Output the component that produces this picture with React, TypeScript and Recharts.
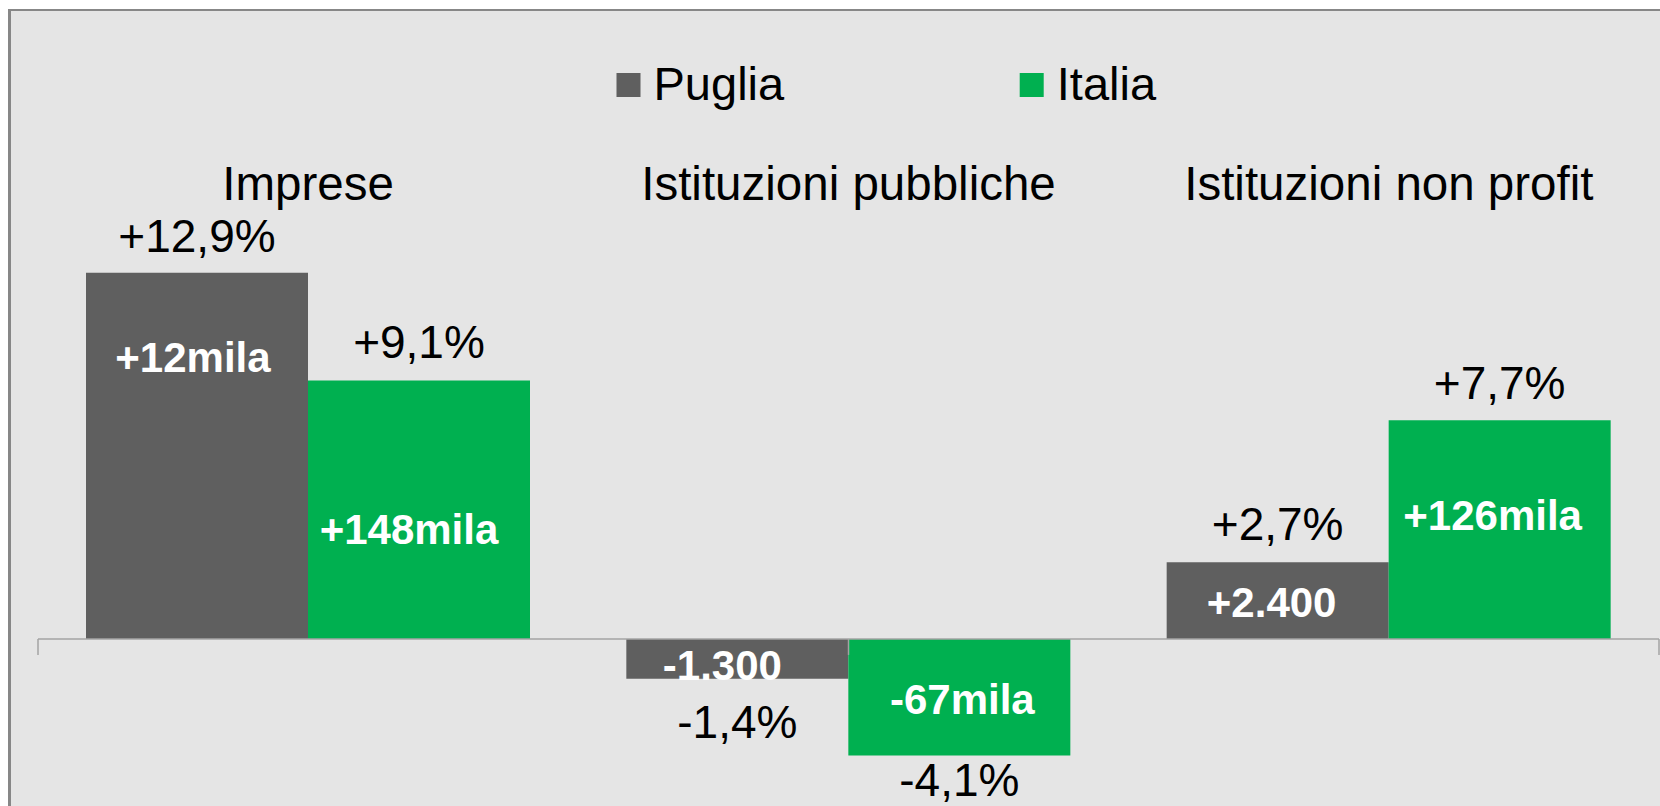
import React from 'react';
import { BarChart, Bar, XAxis, YAxis, ReferenceLine, LabelList, Legend } from 'recharts';

// ---- data ----
const categories = ['Imprese', 'Istituzioni pubbliche', 'Istituzioni non profit'];
const seriesNames = ['Puglia', 'Italia'];
const pugliaPct = [12.9, -1.4, 2.7];
const italiaPct = [9.1, -4.1, 7.7];
const pugliaAbs = ['+12mila', '-1.300', '+2.400'];
const italiaAbs = ['+148mila', '-67mila', '+126mila'];
const yDomain = [-5, 15];

const data = categories.map((name, i) => ({
  name,
  puglia: pugliaPct[i],
  italia: italiaPct[i],
  pugliaAbs: pugliaAbs[i],
  italiaAbs: italiaAbs[i],
}));
const boundaries = Array.from({ length: categories.length + 1 }, (_, i) => i);

// ---- layout / style ----
const FONT = '"Liberation Sans", Arial, Helvetica, sans-serif';
const GREY = '#5f5f5f';
const GREEN = '#00b050';
const AXIS = '#a3a3a3';
// gap between bar end and percent label baseline
const pctGapPuglia = [21, 59, 22];
const pctGapItalia = [23, 41, 21];
// inner label baseline measured from bar's upper edge, and horizontal nudges
const innerDyPuglia = [99, 41, 55];
const innerDyItalia = [163, 75, 110];
const innerDxPuglia = [-4, -15, -6];
const innerDxItalia = [-10, 3, -7];

const fmtPct = (v: number) => (v >= 0 ? '+' : '-') + Math.abs(v).toFixed(1).replace('.', ',') + '%';

function geom(props: any) {
  const vb = props.viewBox && typeof props.viewBox.x === 'number' ? props.viewBox : props;
  const x = Number(vb.x), y = Number(vb.y), w = Number(vb.width), h = Number(vb.height);
  return { cx: x + w / 2, top: Math.min(y, y + h), bottom: Math.max(y, y + h) };
}

function makePctLabel(values: number[], gaps: number[]) {
  return (props: any) => {
    const v = Number(props.value);
    const idx = typeof props.index === 'number' ? props.index : values.indexOf(v);
    const { cx, top, bottom } = geom(props);
    const base = v >= 0 ? top - gaps[idx] : bottom + gaps[idx];
    return (
      <text x={cx} y={base} textAnchor="middle" fontFamily={FONT} fontSize={46} fill="#000">
        {fmtPct(v)}
      </text>
    );
  };
}

function makeInnerLabel(values: string[], dy: number[], dx: number[]) {
  return (props: any) => {
    const v = String(props.value);
    const idx = typeof props.index === 'number' ? props.index : values.indexOf(v);
    const { cx, top } = geom(props);
    return (
      <text x={cx + dx[idx]} y={top + dy[idx]} textAnchor="middle" fontFamily={FONT} fontSize={42} fontWeight="bold" fill="#fff">
        {v}
      </text>
    );
  };
}

const CategoryTick = (props: any) => (
  <text x={props.x} y={props.y} textAnchor="middle" fontFamily={FONT} fontSize={47.5} fill="#000">
    {props.payload.value}
  </text>
);

const LegendContent = (props: any) => {
  const payload = props.payload || [];
  const items = seriesNames
    .map((n) => payload.find((e: any) => e.value === n))
    .filter(Boolean);
  return (
    <svg width={1660} height={120} style={{ display: 'block' }}>
      {items.map((e: any, i: number) => (
        <g key={String(e.value)}>
          <rect x={616.5 + i * 403.2} y={73} width={24} height={24} fill={e.color} />
          <text x={653.5 + i * 403.3} y={100} fontFamily={FONT} fontSize={47} fill="#000">
            {e.value}
          </text>
        </g>
      ))}
    </svg>
  );
};

export default function App() {
  return (
    <div style={{ position: 'absolute', left: 0, top: 0, width: 1660, height: 806, overflow: 'hidden', background: '#fff' }}>
      <div
        style={{
          position: 'absolute', left: 8, top: 9, width: 1700, height: 900,
          background: '#e5e5e5', borderTop: '2px solid #878787', borderLeft: '3px solid #878787', boxSizing: 'border-box',
        }}
      />
      <div style={{ position: 'absolute', left: 0, top: 0 }}>
        <BarChart
          width={1660}
          height={806}
          data={data}
          margin={{ top: 173, right: 1, left: 38, bottom: 25 }}
          barCategoryGap={48}
          barGap={0}
        >
          <XAxis
            dataKey="name"
            orientation="top"
            height={40}
            axisLine={false}
            tickLine={false}
            tickSize={0}
            tickMargin={13}
            interval={0}
            tick={<CategoryTick />}
          />
          <XAxis xAxisId="n" type="number" domain={[0, categories.length]} hide />
          <YAxis hide domain={yDomain} type="number" allowDataOverflow />
          <Legend
            layout="horizontal"
            verticalAlign="middle"
            align="center"
            wrapperStyle={{ position: 'absolute', left: 0, top: 0, width: 1660, height: 120 }}
            content={<LegendContent />}
          />
          <Bar dataKey="puglia" name={seriesNames[0]} fill={GREY} isAnimationActive={false}>
            <LabelList dataKey="puglia" content={makePctLabel(pugliaPct, pctGapPuglia)} />
            <LabelList dataKey="pugliaAbs" content={makeInnerLabel(pugliaAbs, innerDyPuglia, innerDxPuglia)} />
          </Bar>
          <Bar dataKey="italia" name={seriesNames[1]} fill={GREEN} isAnimationActive={false}>
            <LabelList dataKey="italia" content={makePctLabel(italiaPct, pctGapItalia)} />
            <LabelList dataKey="italiaAbs" content={makeInnerLabel(italiaAbs, innerDyItalia, innerDxItalia)} />
          </Bar>
          <ReferenceLine y={0} stroke={AXIS} strokeWidth={1.5} ifOverflow="visible" />
          {boundaries.map((b) => (
            <ReferenceLine
              key={b}
              xAxisId="n"
              segment={[{ x: b, y: 0 }, { x: b, y: -0.56 }]}
              stroke={AXIS}
              strokeWidth={1.5}
              ifOverflow="visible"
            />
          ))}
        </BarChart>
      </div>
    </div>
  );
}
